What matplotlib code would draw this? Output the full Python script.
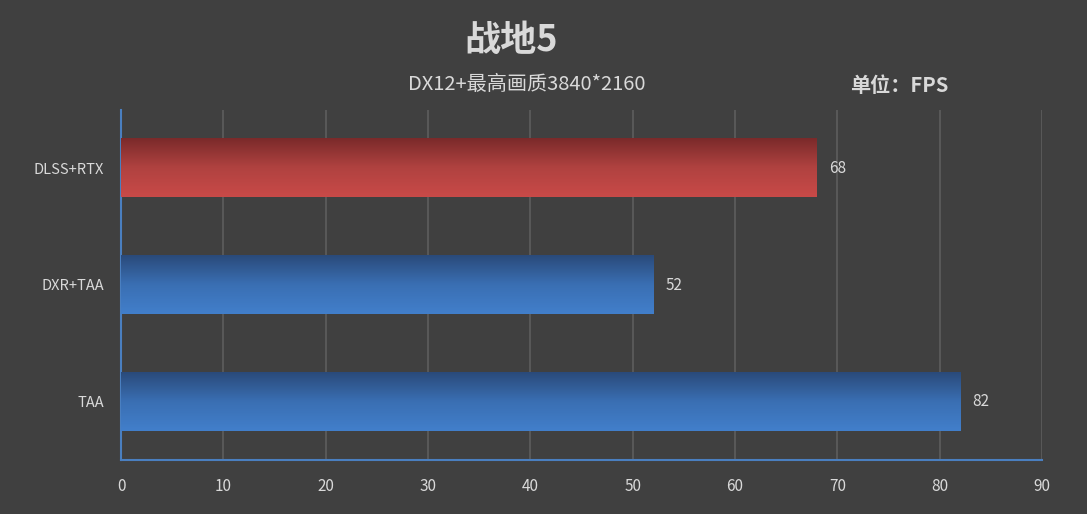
import matplotlib
matplotlib.use("Agg")
import matplotlib.pyplot as plt
import numpy as np
from matplotlib.colors import LinearSegmentedColormap

plt.rcParams['font.family'] = ['Noto Sans CJK SC', 'DejaVu Sans']

categories = ["TAA", "DXR+TAA", "DLSS+RTX"]
values = [82, 52, 68]
bar_colors = ["blue", "blue", "red"]
xticks = [0, 10, 20, 30, 40, 50, 60, 70, 80, 90]
title = "战地5"
subtitle = "DX12+最高画质3840*2160"
unit = "单位：FPS"

BG = "#404040"
TXT = "#d9d9d9"
grads = {
    "blue": LinearSegmentedColormap.from_list("b", ["#427fcb", "#3a6fb3", "#2a4a7a"]),
    "red": LinearSegmentedColormap.from_list("r", ["#c94a48", "#b04240", "#7a2a2a"]),
}

fig = plt.figure(figsize=(10.87, 5.14), dpi=100, facecolor=BG)
top_px, bot_px = 110, 460
ax = fig.add_axes([121/1087, 1-bot_px/514, (1042-121)/1087, (bot_px-top_px)/514])
ax.set_facecolor(BG)

ypos = np.arange(len(categories))
height = 0.5
bars = ax.barh(ypos, values, height=height, color="none", zorder=3)
grad = np.linspace(0, 1, 256).reshape(-1, 1)
for b, c in zip(bars, bar_colors):
    x0, y0 = b.get_x(), b.get_y()
    w, h = b.get_width(), b.get_height()
    ax.imshow(grad, cmap=grads[c], aspect="auto", origin="lower",
              extent=[x0, x0 + w, y0, y0 + h], zorder=3, interpolation="bilinear")
for yy, v in zip(ypos, values):
    ax.text(v + 1.2, yy, str(v), va="center", ha="left", color=TXT, fontsize=11)

ax.set_xlim(0, 90)
ax.set_ylim(-0.5, len(categories) - 0.5)
ax.set_xticks(xticks)
ax.set_xticklabels([str(t) for t in xticks], color=TXT, fontsize=11)
ax.set_yticks(ypos)
ax.set_yticklabels(categories, color=TXT, fontsize=10.5)
ax.tick_params(axis="x", length=0, pad=13)
ax.tick_params(axis="y", length=0, pad=12)
ax.grid(axis="x", color="#5e5e5e", linewidth=1.2, zorder=0)
ax.set_axisbelow(True)
for s in ["top", "right"]:
    ax.spines[s].set_visible(False)
for s in ["left", "bottom"]:
    ax.spines[s].set_color("#4a7fc0")
    ax.spines[s].set_linewidth(1.5)

fig.text(511/1087, 1-40/514, title, ha="center", va="center", color=TXT,
         fontsize=26, fontweight="bold")
fig.text(527/1087, 1-85/514, subtitle, ha="center", va="center", color=TXT, fontsize=14.5)
fig.text(899/1087, 1-85/514, unit, ha="center", va="center", color=TXT,
         fontsize=14.5, fontweight="bold")

fig.savefig("out.png", dpi=100, facecolor=BG)
